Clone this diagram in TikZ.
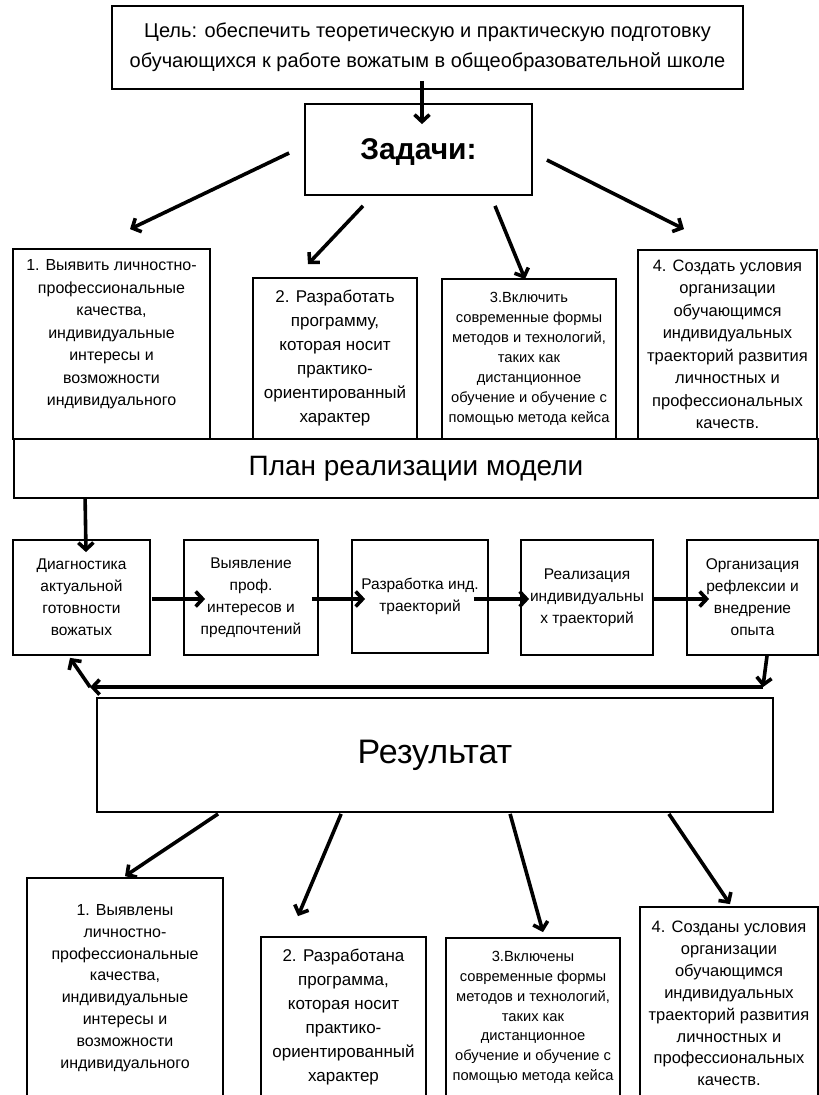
\documentclass[tikz,border=0pt]{standalone}
\usepackage{fontspec}
\setmainfont{Liberation Sans}
\usetikzlibrary{arrows.meta}

\begin{document}
\begin{tikzpicture}[
	>={Straight Barb[length=7pt,width=15pt]},
	x=1pt, y=-1pt,
	box/.style={draw, line width=1.8pt, align=center, inner sep=0pt},
	arr/.style={->, line width=3.6pt}
	]
	\clip (0,0) rectangle (819,1095);

	% goal and tasks
	\node[box, minimum width=631pt, minimum height=83pt, font=\fontsize{20}{30}\selectfont] (goal) at (427.5,47.5)
		{Цель: обеспечить теоретическую и практическую подготовку\\обучающихся к работе вожатым в общеобразовательной школе};
	\node[box, minimum width=227pt, minimum height=91pt, text depth=0pt, font=\fontsize{30}{30}\selectfont\bfseries] (zad) at (418.5,149.5) {Задачи:};

	\node[box, minimum width=197pt, minimum height=190pt, font=\fontsize{16}{22.5}\selectfont] (t1) at (111.5,344)
		{1. Выявить личностно-\\профессиональные\\качества,\\индивидуальные\\интересы и\\возможности\\индивидуального\\ \mbox{}};
	\node[box, minimum width=164pt, minimum height=161pt, font=\fontsize{17}{24}\selectfont] (t2) at (335,358.5)
		{2. Разработать\\программу,\\которая носит\\практико-\\ориентированный\\характер};
	\node[box, minimum width=174pt, minimum height=160pt, font=\fontsize{14.7}{20}\selectfont] (t3) at (529,359)
		{3.Включить\\современные формы\\методов и технологий,\\таких как\\дистанционное\\обучение и обучение с\\помощью метода кейса};
	\node[box, minimum width=179pt, minimum height=189pt, font=\fontsize{16.5}{22.5}\selectfont] (t4) at (727.5,344.5)
		{4. Создать условия\\организации\\обучающимся\\индивидуальных\\траекторий развития\\личностных и\\профессиональных\\качеств.};

	% plan
	\node[box, minimum width=804pt, minimum height=59pt, font=\fontsize{28}{30}\selectfont] (plan) at (416,468.5) {План реализации модели};

	\node[box, minimum width=137pt, minimum height=115pt, font=\fontsize{15.5}{22}\selectfont] (s1) at (81.5,597.5)
		{Диагностика\\актуальной\\готовности\\вожатых};
	\node[box, minimum width=134pt, minimum height=115pt, font=\fontsize{15.5}{22}\selectfont] (s2) at (251,597.5)
		{Выявление\\проф.\\интересов и\\предпочтений};
	\node[box, minimum width=136pt, minimum height=113pt, font=\fontsize{15.5}{22}\selectfont] (s3) at (420,596.5)
		{Разработка инд.\\траекторий};
	\node[box, minimum width=132pt, minimum height=115pt, font=\fontsize{15.5}{22}\selectfont] (s4) at (587,597.5)
		{Реализация\\индивидуальны\\х траекторий};
	\node[box, minimum width=131pt, minimum height=115pt, font=\fontsize{15.5}{22}\selectfont] (s5) at (752.5,597.5)
		{Организация\\рефлексии и\\внедрение\\опыта};

	% result
	\node[box, minimum width=676pt, minimum height=114pt, font=\fontsize{34}{36}\selectfont] (res) at (435,755) {Результат};

	\node[box, minimum width=196pt, minimum height=220pt, font=\fontsize{16}{21.8}\selectfont] (r1) at (125,988)
		{1. Выявлены\\личностно-\\профессиональные\\качества,\\индивидуальные\\интересы и\\возможности\\индивидуального};
	\node[box, minimum width=165pt, minimum height=160pt, font=\fontsize{17}{24}\selectfont] (r2) at (343.5,1017)
		{2. Разработана\\программа,\\которая носит\\практико-\\ориентированный\\характер};
	\node[box, minimum width=174pt, minimum height=159pt, font=\fontsize{14.7}{19.8}\selectfont] (r3) at (533,1017.5)
		{3.Включены\\современные формы\\методов и технологий,\\таких как\\дистанционное\\обучение и обучение с\\помощью метода кейса};
	\node[box, minimum width=178pt, minimum height=193pt, font=\fontsize{16.5}{21.9}\selectfont] (r4) at (729,1003.5)
		{4. Созданы условия\\организации\\обучающимся\\индивидуальных\\траекторий развития\\личностных и\\профессиональных\\качеств.};

	\coordinate (fbr) at ([shift={(-11,-10)}]res.north east);
	\coordinate (fbl) at ([shift={(-6,-10)}]res.north west);

	% arrows
	\draw[arr] ([shift={(-5.5,-9)}]goal.south) -- ([shift={(3.5,21)}]zad.north);
	\draw[arr] ([shift={(-15,3.5)}]zad.west) -- ([shift={(18.5,-19)}]t1.north);
	\draw[arr] ([shift={(-55.5,10)}]zad.south) -- ([shift={(-27,-13)}]t2.north);
	\draw[arr] ([shift={(76.5,10)}]zad.south) -- ([shift={(-4,1)}]t3.north);
	\draw[arr] ([shift={(14,10.5)}]zad.east) -- ([shift={(-43.5,-20)}]t4.north);

	\draw[arr] ([shift={(72,0)}]plan.south west) -- ([shift={(4.5,13)}]s1.north);
	\draw[arr] ([shift={(1,1.5)}]s1.east) -- ([shift={(22,1.5)}]s2.west);
	\draw[arr] ([shift={(-7,1.5)}]s2.east) -- ([shift={(14,2.5)}]s3.west);
	\draw[arr] ([shift={(-15,2.5)}]s3.east) -- ([shift={(9,1.5)}]s4.west);
	\draw[arr] ([shift={(0,1.5)}]s4.east) -- ([shift={(23,1.5)}]s5.west);

	\draw[arr] ([shift={(14.5,0)}]s5.south) -- (fbr);
	\draw[arr] (fbr) -- (fbl);
	\draw[arr] (fbl) -- ([shift={(-11.5,2)}]s1.south);

	\draw[arr] ([shift={(122,1)}]res.south west) -- ([shift={(0,-1)}]r1.north);
	\draw[arr] ([shift={(245,1)}]res.south west) -- ([shift={(-45.5,-20)}]r2.north);
	\draw[arr] ([shift={(414,1)}]res.south west) -- ([shift={(10,-5)}]r3.north);
	\draw[arr] ([shift={(-105,1)}]res.south east) -- ([shift={(1,-2)}]r4.north);

\end{tikzpicture}
\end{document}
